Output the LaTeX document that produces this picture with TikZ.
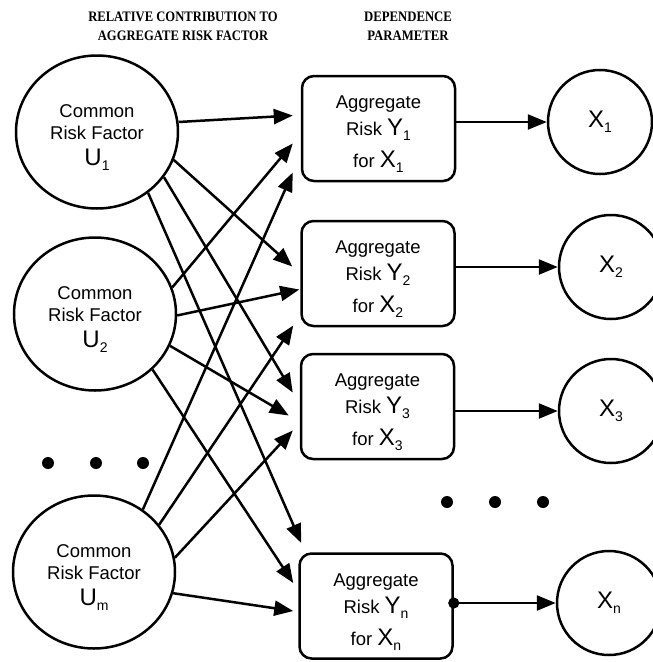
\documentclass[tikz,border=0pt]{standalone}
\usepackage{fontspec}
\setmainfont{Liberation Serif}
\newfontfamily\labelsans{Liberation Sans}
\usetikzlibrary{shapes.geometric,arrows.meta}

% large symbol with a small lowered index, as in "Y_1"
\newcommand\bigsym[2]{{\fontsize{24}{24}\selectfont #1}\raisebox{-5pt}{\fontsize{14}{14}\selectfont #2}}
% extra headroom above the first line of a label
\newcommand\toproom{\rule{0pt}{24pt}}

\tikzset{
  ufactor/.style={ellipse, draw, line width=2.5pt, minimum width=162pt, minimum height=153pt,
    inner sep=0pt, align=center, font=\labelsans\fontsize{18.5}{22}\selectfont},
  aggbox/.style={rectangle, rounded corners=12pt, draw, line width=2.5pt,
    minimum width=153pt, minimum height=105pt, inner sep=0pt, align=center,
    font=\labelsans\fontsize{18.5}{22}\selectfont},
  xvar/.style={circle, draw, line width=2.5pt, minimum size=104pt, inner sep=0pt,
    font=\labelsans},
  arr/.style={line width=2.5pt, -{Triangle[length=19pt,width=15pt]}},
  header/.style={align=center, font=\bfseries\fontsize{14.5}{19}\selectfont},
  dot/.style={fill=black}
}

\begin{document}
\begin{tikzpicture}[x=1pt, y=-1pt]
\useasboundingbox (0,0) rectangle (653,662);

% column headings
\node[header] (h1) at (183,26) {\scalebox{0.87}[1]{RELATIVE CONTRIBUTION TO}\\\scalebox{0.87}[1]{AGGREGATE RISK FACTOR}};
\node[header] (h2) at (408,26) {\scalebox{0.88}[1]{DEPENDENCE}\\\scalebox{0.88}[1]{PARAMETER}};

% common risk factors
\node[ufactor] (U1) at (97,132) {\toproom Common\\Risk Factor\\[4pt]\bigsym{U}{1}};
\node[ufactor] (U2) at (95,314) {\toproom Common\\Risk Factor\\[4pt]\bigsym{U}{2}};
\node[ufactor] (Um) at (94,572) {\toproom Common\\Risk Factor\\[4pt]\bigsym{U}{m}};

% aggregate risks
\node[aggbox] (Y1) at (378.5,128.5) {\toproom Aggregate\\[5pt]Risk \bigsym{Y}{1}\\[10pt]for \bigsym{X}{1}};
\node[aggbox] (Y2) at (378,273.5) {\toproom Aggregate\\[5pt]Risk \bigsym{Y}{2}\\[10pt]for \bigsym{X}{2}};
\node[aggbox] (Y3) at (377.5,406.5) {\toproom Aggregate\\[5pt]Risk \bigsym{Y}{3}\\[10pt]for \bigsym{X}{3}};
\node[aggbox] (Yn) at (376,606) {\toproom Aggregate\\[5pt]Risk \bigsym{Y}{n}\\[10pt]for \bigsym{X}{n}};

% dependent variables
\node[xvar] (X1) at (600,122) {\bigsym{X}{1}};
\node[xvar] (X2) at (611,267) {\bigsym{X}{2}};
\node[xvar] (X3) at (611,411) {\bigsym{X}{3}};
\node[xvar] (Xn) at (609,603) {\bigsym{X}{n}};

% ellipses
\foreach \px in {48,96,143} \fill[dot] (\px,463) circle (6pt);
\foreach \px in {447,495,543} \fill[dot] (\px,502) circle (6pt);

% contributions of U1
\draw[arr] (U1.7)   -- ([shift={(-8,-13)}]Y1.west);
\draw[arr] (U1.-20) -- ([shift={(-8,-7)}]Y2.west);
\draw[arr] (U1.-34) -- ([shift={(-7,-14)}]Y3.west);
\draw[arr] (U1.-50) -- ([shift={(3,-63)}]Yn.west);

% contributions of U2
\draw[arr] (U2.19)  -- ([shift={(-8,15)}]Y1.west);
\draw[arr] (U2.-1)  -- ([shift={(-1,16)}]Y2.west);
\draw[arr] (U2.-23) -- ([shift={(-11,9)}]Y3.west);
\draw[arr] (U2.-44) -- ([shift={(-5,-23)}]Yn.west);

% contributions of Um
\draw[arr] (Um.52)  -- ([shift={(-8,44)}]Y1.west);
\draw[arr] (Um.36)  -- ([shift={(-7,52)}]Y2.west);
\draw[arr] (Um.10)  -- ([shift={(-7,24)}]Y3.west);
\draw[arr] (Um.-15) -- ([shift={(-5,5)}]Yn.west);

% dependence links
\draw[arr] (Y1.east |- X1) -- (X1);
\draw[arr] (Y2.east |- X2) -- (X2);
\draw[arr] (Y3.east |- X3) -- (X3);
\draw[arr, {Circle[length=11pt]}-{Triangle[length=19pt,width=15pt]}, shorten <=-5.5pt] (Yn.east |- Xn) -- (Xn);
\end{tikzpicture}
\end{document}
